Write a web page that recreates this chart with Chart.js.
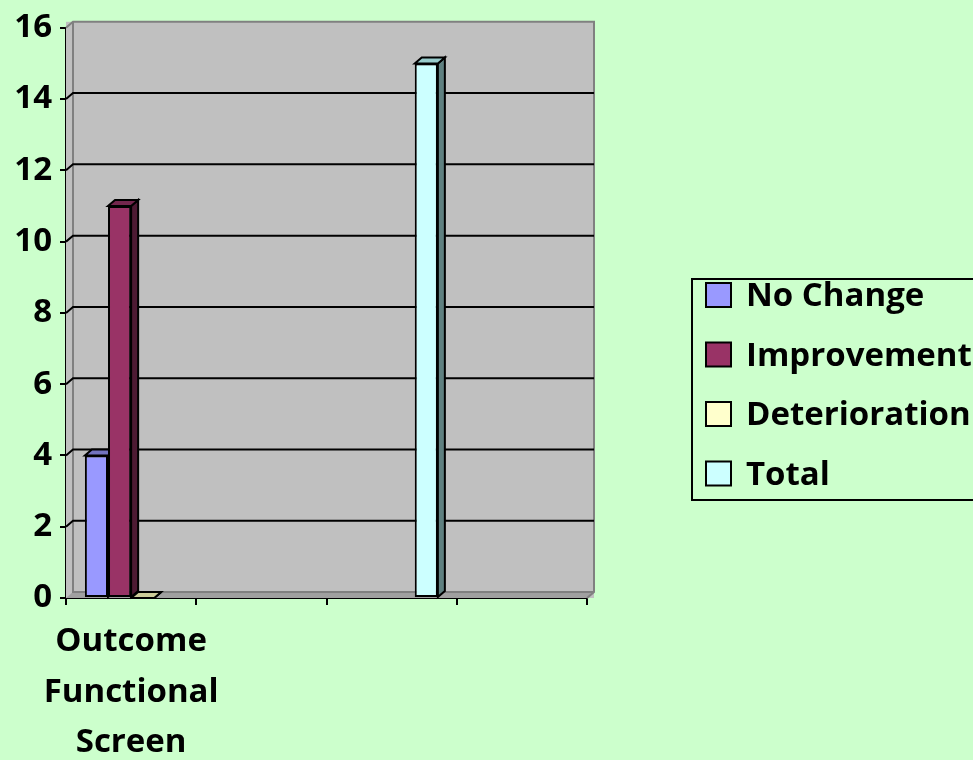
<!DOCTYPE html>
<html>
<head>
<meta charset="utf-8">
<script src="https://cdn.jsdelivr.net/npm/chart.js@4.4.0/dist/chart.umd.min.js"></script>
<style>
  html, body { margin: 0; padding: 0; background: #CCFFCC; overflow: hidden; }
  #wrap { width: 973px; height: 760px; }
</style>
</head>
<body>
<div id="wrap"><canvas id="myChart"></canvas></div>
<script>
// data
const categories = [["Outcome", "Functional", "Screen"], "", "", ""];
const seriesNames = ["No Change", "Improvement", "Deterioration", "Total"];
const noChange = [4, null, null, null];
const improvement = [11, null, null, null];
const deterioration = [0, null, null, null];
const total = [null, null, 15, null];
const yMax = 16;
const yStep = 2;

const fronts = ["#9999FF", "#993366", "#FFFFCC", "#CCFFFF"];
const sides = ["#4D4D99", "#4D1A33", "#999966", "#5F8080"];
const tops = ["#7373C0", "#73264D", "#CCCC99", "#99CCCC"];
const font = "'Open Sans', sans-serif";
const DX = 7, DY = 6;

const ctx = document.getElementById("myChart");

// grey 3d walls + gridlines on back wall
const wallPlugin = {
  id: "wall",
  beforeDatasetsDraw(chart) {
    const { ctx, chartArea: a, scales } = chart;
    ctx.save();
    ctx.fillStyle = "#C0C0C0";
    ctx.fillRect(a.left, a.top - DY, a.right - a.left + DX, a.bottom - a.top + DY);
    // floor
    ctx.fillStyle = "#A0A0A0";
    ctx.beginPath();
    ctx.moveTo(a.left, a.bottom);
    ctx.lineTo(a.left + DX, a.bottom - DY);
    ctx.lineTo(a.right + DX, a.bottom - DY);
    ctx.lineTo(a.right, a.bottom);
    ctx.closePath();
    ctx.fill();
    ctx.strokeStyle = "#808080";
    ctx.lineWidth = 2;
    ctx.beginPath();
    ctx.moveTo(a.left, a.top);
    ctx.lineTo(a.left + DX, a.top - DY);
    ctx.lineTo(a.right + DX, a.top - DY);
    ctx.lineTo(a.right + DX, a.bottom - DY);
    ctx.lineTo(a.right, a.bottom);
    ctx.moveTo(a.left + DX, a.top - DY);
    ctx.lineTo(a.left + DX, a.bottom - DY);
    ctx.lineTo(a.right + DX, a.bottom - DY);
    ctx.stroke();
    // gridlines
    ctx.strokeStyle = "#000";
    ctx.beginPath();
    scales.y.ticks.forEach(t => {
      if (t.value <= 0 || t.value >= yMax) return;
      const y = scales.y.getPixelForValue(t.value);
      ctx.moveTo(a.left, y);
      ctx.lineTo(a.left + DX, y - DY);
      ctx.lineTo(a.right + DX, y - DY);
    });
    ctx.stroke();
    // side and top faces of bars (fronts drawn over by chart.js)
    chart.data.datasets.forEach((ds, i) => {
      const meta = chart.getDatasetMeta(i);
      meta.data.forEach((el, j) => {
        if (ds.data[j] == null) return;
        const w = el.width, l = el.x - w / 2, r = el.x + w / 2, top = el.y, base = el.base;
        ctx.lineWidth = 2;
        ctx.strokeStyle = "#000";
        ctx.fillStyle = sides[i];
        ctx.beginPath();
        ctx.moveTo(r, top);
        ctx.lineTo(r + DX, top - DY);
        ctx.lineTo(r + DX, base - DY);
        ctx.lineTo(r, base);
        ctx.closePath();
        ctx.fill();
        ctx.stroke();
        ctx.fillStyle = tops[i];
        ctx.beginPath();
        ctx.moveTo(l, top);
        ctx.lineTo(l + DX, top - DY);
        ctx.lineTo(r + DX, top - DY);
        ctx.lineTo(r, top);
        ctx.closePath();
        ctx.fill();
        ctx.stroke();
      });
    });
    ctx.restore();
  }
};

// boxed legend on the right
const legendPlugin = {
  id: "boxLegend",
  afterDraw(chart) {
    const { ctx } = chart;
    ctx.save();
    ctx.strokeStyle = "#000";
    ctx.lineWidth = 2;
    ctx.strokeRect(692, 279, 300, 221);
    ctx.font = "bold 33px " + font;
    ctx.textBaseline = "middle";
    chart.data.datasets.forEach((ds, i) => {
      const cy = 295 + i * 59.5;
      ctx.fillStyle = ds.backgroundColor;
      ctx.fillRect(706, cy - 12, 25, 24);
      ctx.strokeRect(706, cy - 12, 25, 24);
      ctx.fillStyle = "#000";
      ctx.fillText(ds.label, 746, cy + 2);
    });
    ctx.restore();
  }
};

new Chart(ctx, {
  type: "bar",
  data: {
    labels: categories,
    datasets: [
      { label: seriesNames[0], data: noChange, backgroundColor: fronts[0] },
      { label: seriesNames[1], data: improvement, backgroundColor: fronts[1] },
      { label: seriesNames[2], data: deterioration, backgroundColor: fronts[2] },
      { label: seriesNames[3], data: total, backgroundColor: fronts[3] },
    ],
  },
  options: {
    responsive: true,
    maintainAspectRatio: false,
    animation: false,
    datasets: {
      bar: {
        borderColor: "#000",
        borderWidth: 2,
        borderSkipped: false,
        categoryPercentage: 0.71,
        barPercentage: 1,
      },
    },
    layout: { padding: { top: 21, right: 386, bottom: 0, left: 0 } },
    plugins: { legend: { display: false }, tooltip: { enabled: false } },
    scales: {
      x: {
        afterFit: s => { s.height = 162; },
        grid: { drawOnChartArea: false, color: "#000", lineWidth: 2, tickLength: 7, offset: true },
        border: { color: "#000", width: 2 },
        ticks: {
          color: "#000",
          autoSkip: false,
          maxRotation: 0,
          padding: 12,
          font: { family: font, size: 33, weight: "bold", lineHeight: 1.52 },
        },
      },
      y: {
        min: 0,
        max: yMax,
        afterFit: s => { s.width = 66; },
        grid: { drawOnChartArea: false, color: "#000", lineWidth: 2, tickLength: 6 },
        border: { color: "#000", width: 2 },
        ticks: {
          stepSize: yStep,
          color: "#000",
          padding: 8,
          font: { family: font, size: 33, weight: "bold" },
        },
      },
    },
  },
  plugins: [wallPlugin, legendPlugin],
});
</script>
</body>
</html>
